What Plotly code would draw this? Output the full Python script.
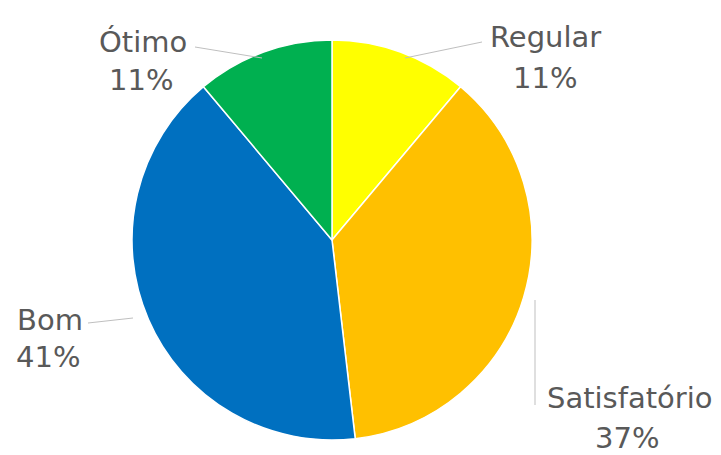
import plotly.graph_objects as go

labels = ["Regular", "Satisfatório", "Bom", "Ótimo"]
values = [3, 10, 11, 3]
colors = ["#FFFF00", "#FFC000", "#0070C0", "#00B050"]

W, H = 721, 455
OFF = 8  # page body margin offset
total = sum(values)
pcts = [f"{round(v / total * 100)}%" for v in values]

def px(x, y):
    return (x - OFF) / W, 1 - (y - OFF) / H

cx, cy, r = 332, 240, 200
x0d, y1d = px(cx - r, cy - r)
x1d, y0d = px(cx + r, cy + r)

fig = go.Figure(go.Pie(
    labels=labels, values=values, sort=False, direction="clockwise", rotation=0,
    marker=dict(colors=colors, line=dict(color="white", width=1.5)),
    textinfo="none", hoverinfo="label+percent", showlegend=False,
    domain=dict(x=[x0d, x1d], y=[y0d, y1d]),
))

# label positions (pixels): name line centre, percent line centre
label_pos = {
    "Regular": ((545, 37), (545, 78)),
    "Satisfatório": ((630, 398), (627, 438)),
    "Bom": ((50, 320), (48, 357)),
    "Ótimo": ((143, 42), (141, 80)),
}
leaders = {
    "Regular": ((482, 42), (405, 58)),
    "Satisfatório": ((535, 300), (535, 405)),
    "Bom": ((88, 323), (133, 318)),
    "Ótimo": ((195, 47), (262, 58)),
}

font = dict(family="DejaVu Sans", size=29, color="#595959")
for lab, pct in zip(labels, pcts):
    (nx, ny), (qx, qy) = label_pos[lab]
    for txt, (x, y) in ((lab, (nx, ny)), (pct, (qx, qy))):
        ax_, ay_ = px(x, y)
        fig.add_annotation(x=ax_, y=ay_, xref="paper", yref="paper", text=txt,
                           showarrow=False, font=font, xanchor="center", yanchor="middle")
    (lx0, ly0), (lx1, ly1) = leaders[lab]
    a, b = px(lx0, ly0)
    c, d = px(lx1, ly1)
    fig.add_shape(type="line", xref="paper", yref="paper", x0=a, y0=b, x1=c, y1=d,
                  line=dict(color="#BFBFBF", width=1))

fig.update_layout(width=W, height=H, margin=dict(l=0, r=0, t=0, b=0),
                  paper_bgcolor="white", plot_bgcolor="white")
fig.write_html("out.html")
